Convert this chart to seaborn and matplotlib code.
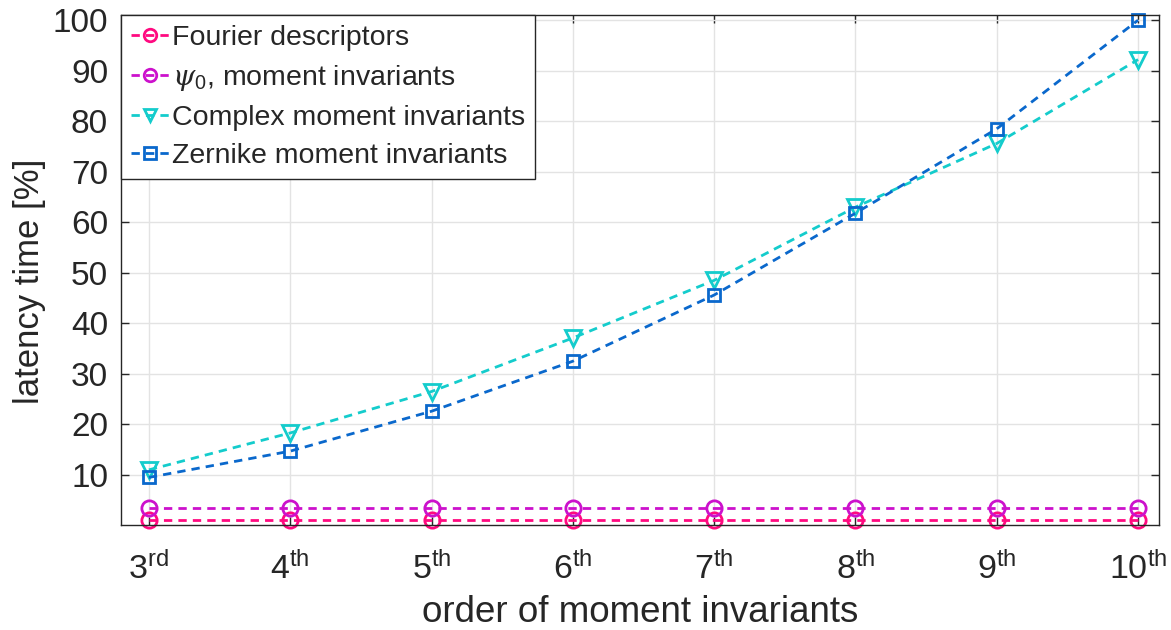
import matplotlib
matplotlib.use("Agg")
import matplotlib.pyplot as plt
import seaborn as sns
import pandas as pd

# Moment order (3rd .. 10th) and relative latency of each descriptor family [%]
orders = [3, 4, 5, 6, 7, 8, 9, 10]
order_labels = ["3$^{\\rm rd}$", "4$^{\\rm th}$", "5$^{\\rm th}$", "6$^{\\rm th}$",
                "7$^{\\rm th}$", "8$^{\\rm th}$", "9$^{\\rm th}$", "10$^{\\rm th}$"]
fourier = [1.0, 1.0, 1.0, 1.0, 1.0, 1.0, 1.0, 1.0]
psi0 = [3.5, 3.5, 3.5, 3.5, 3.5, 3.5, 3.5, 3.5]
complex_mi = [11.0, 18.3, 26.5, 37.1, 48.5, 63.0, 75.6, 92.2]
zernike = [9.5, 14.7, 22.6, 32.5, 45.6, 61.8, 78.5, 100.0]

series_names = ["Fourier descriptors", "$\\psi_0$, moment invariants",
                "Complex moment invariants", "Zernike moment invariants"]
series_values = [fourier, psi0, complex_mi, zernike]
colors = ["#FF0A80", "#CC11CC", "#14CCCC", "#0A68CC"]
markers = ["o", "o", "v", "s"]
msizes = [11, 11, 11, 9]

sns.set_style("whitegrid")
plt.rcParams["font.family"] = ["Liberation Sans", "DejaVu Sans"]
plt.rcParams["mathtext.fontset"] = "custom"
plt.rcParams["mathtext.rm"] = "Liberation Sans"
plt.rcParams["mathtext.it"] = "DejaVu Serif:italic"

fig, ax = plt.subplots(figsize=(11.71, 6.30), dpi=100)
fig.subplots_adjust(left=0.103, right=0.99, top=0.976, bottom=0.166)

for name, vals, c, m, ms in zip(series_names, series_values, colors, markers, msizes):
    df = pd.DataFrame({"order": orders, "latency": vals})
    sns.lineplot(data=df, x="order", y="latency", ax=ax, color=c, label=name,
                 marker=m, markersize=ms, markerfacecolor="none",
                 markeredgecolor=c, markeredgewidth=2.0, linewidth=2.0)
for line in ax.get_lines():
    line.set_linestyle((0, (3, 2.2)))
    line.set_clip_on(False)

ax.set_xlim(2.8, 10.15)
ax.set_ylim(0, 101)
ax.set_xticks(orders)
ax.set_xticklabels(order_labels)
ax.set_yticks(range(10, 101, 10))

ax.grid(True, color="#E3E3E3", linewidth=1.0)
for s in ax.spines.values():
    s.set_visible(True)
    s.set_color("#262626")
    s.set_linewidth(1.0)
ax.tick_params(axis="both", which="both", direction="in", length=6, width=1.0,
               color="#262626", labelcolor="#262626",
               top=True, right=True, bottom=True, left=True)
ax.tick_params(axis="y", labelsize=24, pad=9)
ax.tick_params(axis="x", labelsize=24.5, pad=19)

ax.set_xlabel("order of moment invariants", fontsize=26.5, color="#262626")
ax.set_ylabel("latency time [%]", fontsize=25, color="#262626")
ax.xaxis.set_label_coords(0.5, -0.137)
ax.yaxis.set_label_coords(-0.072, 0.478)

leg = ax.legend(loc="upper left", fontsize=20.5, frameon=True, fancybox=False,
                edgecolor="#262626", framealpha=1.0, handlelength=1.35,
                handletextpad=0.1, borderpad=0.35, labelspacing=0.42,
                borderaxespad=0.0)
leg.get_frame().set_linewidth(1.0)
for h in leg.get_lines():
    h.set_linestyle((0, (3, 2.2)))
    h.set_markersize(9)

fig.savefig("out.png", dpi=100)
